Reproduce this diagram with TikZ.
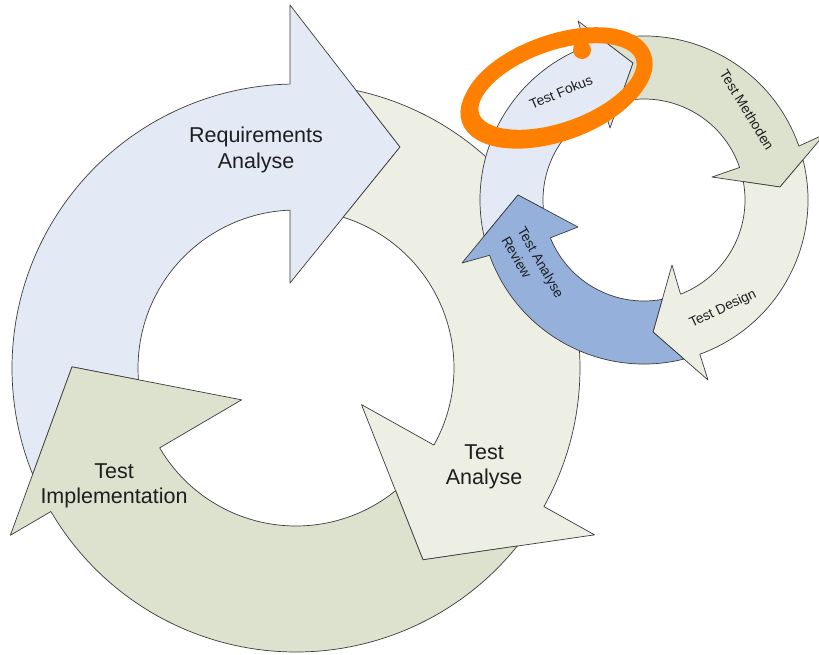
\documentclass[tikz,border=0pt]{standalone}
\usepackage{fontspec}
\setmainfont{Liberation Sans}
\definecolor{edgec}{RGB}{60,60,60}
\definecolor{lbluec}{RGB}{228,234,245}
\definecolor{lgreyc}{RGB}{237,238,228}
\definecolor{olivec}{RGB}{221,226,207}
\definecolor{mbluec}{RGB}{149,177,219}
\definecolor{orangec}{RGB}{255,128,0}
\definecolor{txtc}{RGB}{30,30,30}
\begin{document}
\begin{tikzpicture}[x=1pt,y=1pt,
  ringarrow/.style={draw=edgec, line width=0.7pt, line join=round},
  biglabel/.style={font=\fontsize{21.5}{25.5}\selectfont, text=txtc, align=center, inner sep=0pt},
  smalllabel/.style={font=\fontsize{13.8}{18.5}\selectfont, text=txtc, inner sep=0pt},
  marker/.style={draw=orangec, line width=16pt}]
\useasboundingbox (0,0) rectangle (819,-654);
\clip (0,0) rectangle (819,-654);
\fill[white] (0,0) rectangle (819,-654);

% ---- big cycle ----
\begin{scope}[shift={(296,-368)}]
  % Requirements Analyse
  \filldraw[ringarrow, fill=lbluec] (184.3:158) -- (179.7:224) -- (202:284)
    arc[start angle=202, end angle=91.2, radius=284]
    -- (-6,363) -- (104,221) -- (-6,85) -- (92.2:158)
    arc[start angle=92.2, end angle=184.3, radius=158] -- cycle;
  % Test Analyse
  \filldraw[ringarrow, fill=lgreyc] (72.62:158) -- (104,221) -- (77.76:284)
    arc[start angle=77.76, end angle=-29.2, radius=284]
    -- (-29.2:342) -- (-56.5:230) -- (-29.2:75) -- (-29.2:158)
    arc[start angle=-29.2, end angle=72.62, radius=158] -- cycle;
  % Test Implementation
  \filldraw[ringarrow, fill=olivec] (-50.9:158) -- (-56.5:230) -- (-38.8:284)
    arc[start angle=-38.8, end angle=-149.65, radius=284]
    -- (-149.65:331) -- (179.7:224) -- (-149.65:63) -- (-149.65:158)
    arc[start angle=-149.65, end angle=-50.9, radius=158] -- cycle;
\end{scope}

% ---- small cycle ----
\begin{scope}[shift={(644,-200)}]
  % Test Fokus
  \filldraw[ringarrow, fill=lbluec] (184.83:101) -- (-126,5) -- (192.75:164)
    arc[start angle=192.75, end angle=110.8, radius=164]
    -- (-66,179) -- (-11,137) -- (-34,72) -- (113.4:101)
    arc[start angle=113.4, end angle=184.83, radius=101] -- cycle;
  % Test Methoden
  \filldraw[ringarrow, fill=olivec] (104.2:101) -- (-11,137) -- (104.1:164)
    arc[start angle=104.1, end angle=19.2, radius=164]
    -- (180.4,65.6) -- (136,13) -- (68,23) -- (18.8:101)
    arc[start angle=18.8, end angle=104.2, radius=101] -- cycle;
  % Test Design
  \filldraw[ringarrow, fill=lgreyc] (10.5:101) -- (136,13) -- (14.2:164)
    arc[start angle=14.2, end angle=-70.1, radius=164]
    -- (64,-180) -- (9,-132) -- (28,-65) -- (-68.8:101)
    arc[start angle=-68.8, end angle=10.5, radius=101] -- cycle;
  % Test Analyse Review
  \filldraw[ringarrow, fill=mbluec] (-79.6:101) -- (9,-132) -- (-75.9:164)
    arc[start angle=-75.9, end angle=-160.3, radius=164]
    -- (-182,-63) -- (-126,5) -- (-66,-27) -- (-158:101)
    arc[start angle=-158, end angle=-79.6, radius=101] -- cycle;
\end{scope}

% ---- labels ----
\node[biglabel] (req) at (256,-150) {Requirements\\Analyse};
\node[biglabel] (impl) at (114,-486) {Test\\Implementation};
\node[biglabel] (ana) at (484,-467) {Test\\Analyse};
\node[smalllabel, rotate=23] (fokus) at (561,-92) {Test Fokus};
\node[smalllabel, rotate=-58.5] (meth) at (747,-110) {Test Methoden};
\node[smalllabel, rotate=25.5] (design) at (723,-309) {Test Design};
\node[smalllabel, rotate=-60, align=left] (review) at (533,-267) {Test Analyse\\Review};

% ---- orange highlight ----
\draw[marker, rotate around={19.3:(557.5,-86.5)}] (557.5,-86.5) ellipse[x radius=91, y radius=44];
\draw[draw=orangec, line width=7pt, rotate around={19.3:(555,-90)}] (555,-90) ellipse[x radius=95, y radius=48];
\fill[orangec] (582,-50) circle[radius=9];
\end{tikzpicture}
\end{document}
